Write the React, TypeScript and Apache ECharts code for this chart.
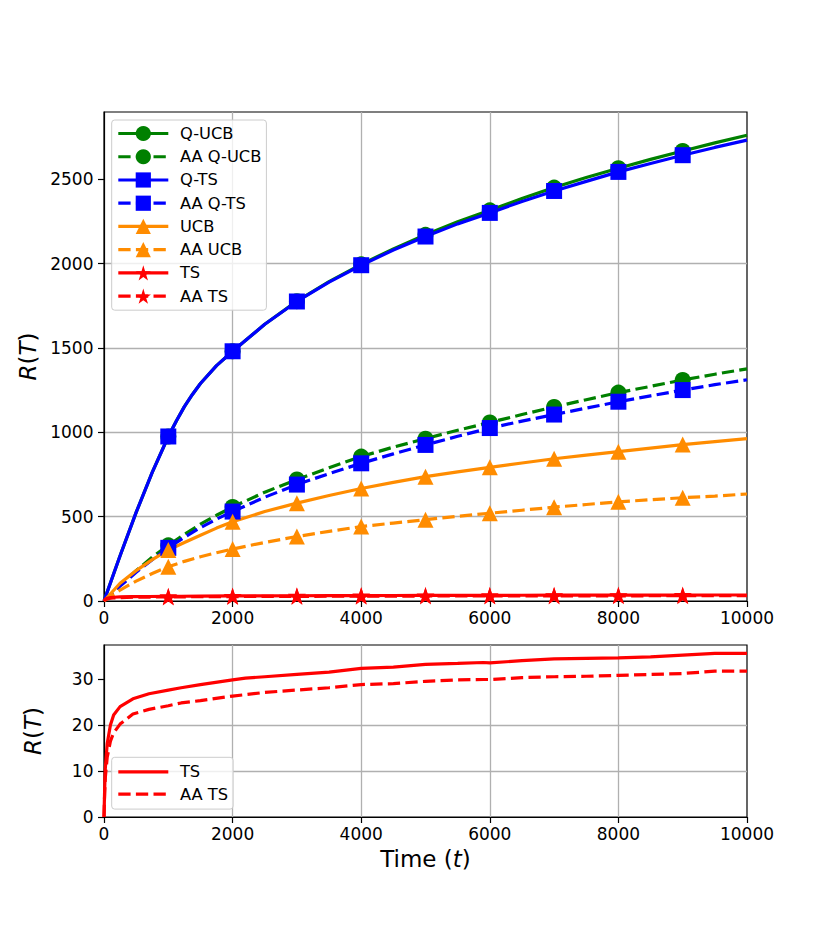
import React, { useEffect, useRef } from 'react';
import * as echarts from 'echarts';

// ---------- data ----------
const timeQ = [0, 250, 500, 750, 1000, 1125, 1250, 1375, 1500, 1750, 2000, 2500, 3000, 3500, 4000, 4500, 5000, 5500, 6000, 6500, 7000, 7500, 8000, 8500, 9000, 9500, 10000];
const qUcb = [0, 268, 525, 762, 975, 1067, 1152, 1224, 1289, 1395, 1480, 1640, 1777, 1893, 1995, 2087, 2170, 2248, 2315, 2385, 2450, 2510, 2565, 2617, 2667, 2715, 2760];
const qTs = [0, 268, 525, 762, 975, 1067, 1152, 1224, 1289, 1395, 1480, 1640, 1775, 1890, 1990, 2080, 2160, 2235, 2300, 2368, 2430, 2487, 2543, 2593, 2642, 2688, 2731];

const timeTop = [0, 250, 500, 750, 1000, 1250, 1500, 1750, 2000, 2500, 3000, 3500, 4000, 4500, 5000, 5500, 6000, 6500, 7000, 7500, 8000, 8500, 9000, 9500, 10000];
const aaQUcb = [0, 95, 180, 260, 330, 395, 455, 508, 557, 645, 720, 790, 856, 912, 962, 1012, 1058, 1105, 1150, 1193, 1235, 1272, 1310, 1344, 1376];
const aaQTs = [0, 88, 170, 245, 315, 378, 435, 485, 530, 615, 690, 755, 816, 872, 925, 976, 1025, 1066, 1105, 1143, 1181, 1216, 1250, 1282, 1311];
const ucb = [0, 105, 180, 245, 302, 347, 390, 432, 470, 530, 580, 625, 667, 703, 737, 765, 792, 818, 843, 864, 885, 906, 927, 945, 962];
const aaUcb = [0, 65, 118, 163, 203, 235, 262, 286, 308, 347, 382, 413, 441, 462, 482, 502, 520, 538, 556, 572, 588, 600, 612, 622, 634];

const timeTs = [0, 10, 20, 50, 100, 150, 250, 450, 700, 1000, 1200, 1500, 2000, 2200, 2500, 3000, 3500, 4000, 4500, 5000, 5500, 5900, 6000, 6500, 7000, 7500, 8000, 8500, 9000, 9500, 10000];
const ts = [0, 6, 10.5, 16, 20, 22.2, 24, 25.7, 26.8, 27.6, 28.1, 28.8, 29.8, 30.2, 30.5, 31.0, 31.5, 32.3, 32.6, 33.2, 33.4, 33.6, 33.5, 34.0, 34.4, 34.5, 34.6, 34.8, 35.2, 35.6, 35.6];
const aaTs = [0, 5, 8.5, 13, 16.5, 18.3, 20.2, 22.4, 23.4, 24.2, 24.8, 25.3, 26.3, 26.6, 27.1, 27.6, 28.1, 28.8, 29.0, 29.5, 29.8, 29.9, 29.9, 30.3, 30.5, 30.6, 30.8, 31.0, 31.2, 31.7, 31.7];

const markerTimes = [1000, 2000, 3000, 4000, 5000, 6000, 7000, 8000, 9000];
const xTicks = [0, 2000, 4000, 6000, 8000, 10000];
const topYTicks = [0, 500, 1000, 1500, 2000, 2500];
const bottomYTicks = [0, 10, 20, 30];

const topNames = ['Q-UCB', 'AA Q-UCB', 'Q-TS', 'AA Q-TS', 'UCB', 'AA UCB', 'TS', 'AA TS'];
const bottomNames = ['TS (lower)', 'AA TS (lower)'];

const GREEN = '#008000';
const BLUE = '#0000ff';
const ORANGE = '#ff8c00';
const RED = '#ff0000';
const STAR = 'path://M0,-1 L0.2245,-0.309 L0.9511,-0.309 L0.3633,0.118 L0.5878,0.809 L0,0.382 L-0.5878,0.809 L-0.3633,0.118 L-0.9511,-0.309 L-0.2245,-0.309 Z';
const FONT = 'DejaVu Sans';
const DASH = [12.3, 5.3];
const LW = 3.2;

const zip = (xs: number[], ys: number[]) => xs.map((x, i) => [x, ys[i]]);

export default function App() {
  const ref = useRef<HTMLDivElement>(null);
  useEffect(() => {
    if (!ref.current) return;
    const chart = echarts.init(ref.current, undefined, { renderer: 'svg' });

    const mk = (name: string, xs: number[], ys: number[], color: string, symbol: string, size: number, dashed: boolean) => ({
      name,
      type: 'line',
      xAxisIndex: 0,
      yAxisIndex: 0,
      data: zip(xs, ys),
      symbol,
      symbolSize: (v: number[]) => (markerTimes.includes(v[0]) ? size : 0),
      showSymbol: true,
      showAllSymbol: true,
      symbolKeepAspect: symbol === STAR,
      lineStyle: { color, width: LW, type: dashed ? DASH : 'solid', cap: 'butt' },
      itemStyle: { color, opacity: 1 },
      emphasis: { disabled: true },
    });

    const axisCommon = {
      axisLine: { show: true, lineStyle: { color: '#000', width: 1.2 } },
      axisTick: { show: true, length: 6, lineStyle: { color: '#000', width: 1.2 } },
      splitLine: { show: true, showMinLine: false, showMaxLine: false, lineStyle: { color: '#b0b0b0', width: 1.3 } },
    };

    const fmt = (v: number) => String(v);
    const labelStyle = { color: '#000', fontSize: 17, fontFamily: FONT, formatter: fmt };
    const nameStyle = {
      color: '#000',
      fontSize: 23,
      fontFamily: FONT,
      rich: {
        i: { fontStyle: 'italic', fontSize: 23, fontFamily: FONT, color: '#000' },
        n: { fontSize: 23, fontFamily: FONT, color: '#000' },
      },
    };

    const legendCommon = {
      orient: 'vertical',
      itemWidth: 50,
      itemHeight: 19,
      backgroundColor: 'rgba(255,255,255,0.8)',
      borderColor: '#cccccc',
      borderWidth: 1,
      borderRadius: 3,
      selectedMode: false,
      lineStyle: { width: LW },
      textStyle: { color: '#000', fontSize: 16.3, fontFamily: FONT, lineHeight: 19, padding: [0, 0, 0, 6.6] },
    };

    chart.setOption({
      animation: false,
      textStyle: { fontFamily: FONT },
      grid: [
        { left: 104, top: 112, width: 643, height: 489, show: true, borderColor: '#000', borderWidth: 1.2, backgroundColor: 'transparent' },
        { left: 104, top: 645, width: 643, height: 172, show: true, borderColor: '#000', borderWidth: 1.2, backgroundColor: 'transparent' },
      ],
      xAxis: [
        {
          type: 'value', gridIndex: 0, min: 0, max: 10000, interval: 2000,
          ...axisCommon,
          axisTick: { ...axisCommon.axisTick, customValues: xTicks },
          axisLabel: { ...labelStyle, margin: 8, customValues: xTicks },
        },
        {
          type: 'value', gridIndex: 1, min: 0, max: 10000, interval: 2000,
          ...axisCommon,
          axisTick: { ...axisCommon.axisTick, customValues: xTicks },
          axisLabel: { ...labelStyle, margin: 8, customValues: xTicks },
          name: 'Time ({i|t})',
          nameLocation: 'middle',
          nameGap: 30,
          nameTextStyle: nameStyle,
        },
      ],
      yAxis: [
        {
          type: 'value', gridIndex: 0, min: 0, max: 2898, interval: 500,
          ...axisCommon,
          axisTick: { ...axisCommon.axisTick, customValues: topYTicks },
          axisLabel: { ...labelStyle, margin: 10.5, customValues: topYTicks },
          name: '{i|R}{n|(}{i|T}{n|)}',
          nameLocation: 'middle',
          nameRotate: 90,
          nameGap: 60,
          nameTextStyle: nameStyle,
        },
        {
          type: 'value', gridIndex: 1, min: 0, max: 37.4, interval: 10,
          ...axisCommon,
          axisTick: { ...axisCommon.axisTick, customValues: bottomYTicks },
          axisLabel: { ...labelStyle, margin: 10.5, customValues: bottomYTicks },
          name: '{i|R}{n|(}{i|T}{n|)}',
          nameLocation: 'middle',
          nameRotate: 90,
          nameGap: 60,
          nameTextStyle: nameStyle,
        },
      ],
      legend: [
        {
          ...legendCommon,
          left: 111.7,
          top: 120,
          padding: [4, 5, 4.5, 5],
          itemGap: 4.24,
          data: topNames,
        },
        {
          ...legendCommon,
          left: 111.7,
          top: 757.3,
          padding: [5, 5, 5.5, 5],
          itemGap: 3.3,
          data: bottomNames.map((n) => ({ name: n, itemStyle: { opacity: 0 } })),
          formatter: (n: string) => n.replace(' (lower)', ''),
        },
      ],
      series: [
        mk('Q-UCB', timeQ, qUcb, GREEN, 'circle', 16, false),
        mk('AA Q-UCB', timeTop, aaQUcb, GREEN, 'circle', 16, true),
        mk('Q-TS', timeQ, qTs, BLUE, 'rect', 16, false),
        mk('AA Q-TS', timeTop, aaQTs, BLUE, 'rect', 16, true),
        mk('UCB', timeTop, ucb, ORANGE, 'triangle', 16, false),
        mk('AA UCB', timeTop, aaUcb, ORANGE, 'triangle', 16, true),
        mk('TS', timeTs, ts, RED, STAR, 18, false),
        mk('AA TS', timeTs, aaTs, RED, STAR, 18, true),
        {
          name: 'TS (lower)', type: 'line', xAxisIndex: 1, yAxisIndex: 1,
          data: zip(timeTs, ts), showSymbol: false, symbol: 'circle', symbolSize: 0,
          lineStyle: { color: RED, width: LW, type: 'solid' }, itemStyle: { color: RED }, emphasis: { disabled: true },
        },
        {
          name: 'AA TS (lower)', type: 'line', xAxisIndex: 1, yAxisIndex: 1,
          data: zip(timeTs, aaTs), showSymbol: false, symbol: 'circle', symbolSize: 0,
          lineStyle: { color: RED, width: LW, type: DASH }, itemStyle: { color: RED }, emphasis: { disabled: true },
        },
      ],
    });

    return () => chart.dispose();
  }, []);

  return <div ref={ref} style={{ position: 'absolute', left: 0, top: 0, width: 830, height: 934, background: '#fff' }} />;
}
